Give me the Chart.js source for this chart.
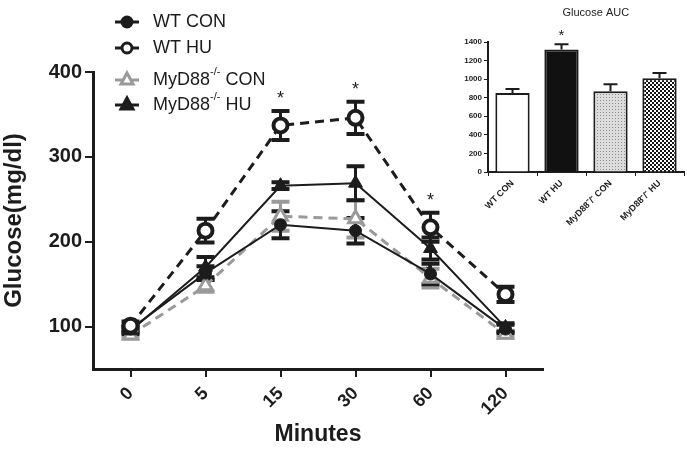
<!DOCTYPE html>
<html>
<head>
<meta charset="utf-8">
<script src="https://cdn.jsdelivr.net/npm/chart.js@4.4.0/dist/chart.umd.min.js"></script>
<style>
  body { margin: 0; background: #fff; }
  #wrap { position: relative; width: 687px; height: 452px; }
  #main { position: absolute; left: 0; top: 0; }
  #inset { position: absolute; left: 440px; top: 0; }
</style>
</head>
<body>
<div id="wrap">
  <canvas id="main" width="687" height="452"></canvas>
  <canvas id="inset" width="247" height="240"></canvas>
</div>
<script>
// glucose tolerance, mean and SEM per time point
const minutes = ['0', '5', '15', '30', '60', '120'];
const wtCon = [97, 163, 220, 213, 162, 97];
const wtConSem = [4, 8, 16, 15, 12, 5];
const wtHu = [101, 213, 337, 346, 217, 138];
const wtHuSem = [5, 14, 17, 19, 17, 9];
const myCon = [90, 148, 230, 227, 157, 91];
const myConSem = [4, 7, 17, 22, 11, 4];
const myHu = [95, 170, 266, 269, 192, 99];
const myHuSem = [4, 12, 4, 20, 13, 5];
const glucoseTicks = [100, 200, 300, 400];
const sigWtHu = ['15', '30', '60'];
const sigMyCon = ['60'];

// area under curve
const aucGroups = ['WT CON', 'WT HU', 'MyD88\u207B/\u207B CON', 'MyD88\u207B/\u207B HU'];
const aucMean = [850, 1320, 870, 1010];
const aucSem = [45, 55, 75, 55];
const aucTicks = [0, 200, 400, 600, 800, 1000, 1200, 1400];
const sigAuc = ['WT HU'];

const BLACK = '#1c1c1c';
const GREY = '#9a9a9a';
const FONT = 'Arial, "Liberation Sans", sans-serif';

// error bars drawn under the markers
const errorBars = {
    id: 'errorBars',
    beforeDatasetsDraw(chart) {
        const ctx = chart.ctx;
        const y = chart.scales.y;
        for (let i = chart.data.datasets.length - 1; i >= 0; i--) {
            const ds = chart.data.datasets[i];
            const meta = chart.getDatasetMeta(i);
            ctx.save();
            ctx.strokeStyle = ds.borderColor;
            ctx.setLineDash([]);
            meta.data.forEach((pt, j) => {
                const top = y.getPixelForValue(ds.data[j] + ds.sem[j]);
                const bot = y.getPixelForValue(ds.data[j] - ds.sem[j]);
                ctx.lineWidth = 3;
                ctx.beginPath();
                ctx.moveTo(pt.x, top);
                ctx.lineTo(pt.x, bot);
                ctx.stroke();
                ctx.lineWidth = 4;
                ctx.beginPath();
                ctx.moveTo(pt.x - 9, top);
                ctx.lineTo(pt.x + 9, top);
                ctx.moveTo(pt.x - 9, bot);
                ctx.lineTo(pt.x + 9, bot);
                ctx.stroke();
            });
            ctx.restore();
        }
    },
    afterDatasetsDraw(chart) {
        const ctx = chart.ctx;
        const x = chart.scales.x;
        const y = chart.scales.y;
        ctx.save();
        ctx.fillStyle = BLACK;
        ctx.textAlign = 'center';
        ctx.textBaseline = 'middle';
        ctx.font = '18px ' + FONT;
        sigWtHu.forEach(t => {
            const j = minutes.indexOf(t);
            ctx.fillText('*', x.getPixelForValue(j), y.getPixelForValue(wtHu[j] + wtHuSem[j]) - 12);
        });
        ctx.font = '14px ' + FONT;
        sigMyCon.forEach(t => {
            const j = minutes.indexOf(t);
            ctx.fillText('*', x.getPixelForValue(j) - 2, y.getPixelForValue(myCon[j] + myConSem[j]) + 2);
        });
        ctx.restore();
    }
};

// legend with superscript text
const sideLegend = {
    id: 'sideLegend',
    afterDraw(chart) {
        const ctx = chart.ctx;
        const items = [
            { name: 'WT CON', sup: '', ds: 1, y: 22 },
            { name: 'WT HU', sup: '', ds: 0, y: 48 },
            { name: 'MyD88', sup: '-/-', rest: ' CON', ds: 3, y: 80 },
            { name: 'MyD88', sup: '-/-', rest: ' HU', ds: 2, y: 105 }
        ];
        ctx.save();
        items.forEach(it => {
            const ds = chart.data.datasets[it.ds];
            ctx.strokeStyle = ds.borderColor;
            ctx.lineWidth = 3;
            ctx.setLineDash([]);
            ctx.beginPath();
            ctx.moveTo(115, it.y);
            ctx.lineTo(139, it.y);
            ctx.stroke();
            ctx.fillStyle = ds.pointBackgroundColor;
            ctx.lineWidth = 3;
            ctx.beginPath();
            if (ds.pointStyle === 'circle') {
                ctx.arc(127, it.y, 5, 0, Math.PI * 2);
            } else {
                ctx.moveTo(127, it.y - 7);
                ctx.lineTo(133, it.y + 4);
                ctx.lineTo(121, it.y + 4);
                ctx.closePath();
            }
            ctx.fill();
            ctx.stroke();
            ctx.fillStyle = BLACK;
            ctx.textBaseline = 'middle';
            ctx.font = '18px ' + FONT;
            ctx.fillText(it.name, 153, it.y);
            if (it.sup) {
                let px = 153 + ctx.measureText(it.name).width;
                ctx.font = '11px ' + FONT;
                ctx.fillText(it.sup, px, it.y - 8);
                px += ctx.measureText(it.sup).width;
                ctx.font = '18px ' + FONT;
                ctx.fillText(it.rest, px, it.y);
            }
        });
        ctx.restore();
    }
};

new Chart(document.getElementById('main').getContext('2d'), {
    type: 'line',
    data: {
        labels: minutes,
        datasets: [
            {
                label: 'WT HU', data: wtHu, sem: wtHuSem,
                borderColor: BLACK, borderWidth: 3, borderDash: [9, 6],
                pointStyle: 'circle', pointRadius: 7, pointBorderWidth: 4,
                pointBackgroundColor: '#fff', pointBorderColor: BLACK
            },
            {
                label: 'WT CON', data: wtCon, sem: wtConSem,
                borderColor: BLACK, borderWidth: 2,
                pointStyle: 'circle', pointRadius: 6, pointBorderWidth: 1,
                pointBackgroundColor: BLACK, pointBorderColor: BLACK
            },
            {
                label: 'MyD88-/- HU', data: myHu, sem: myHuSem,
                borderColor: BLACK, borderWidth: 2,
                pointStyle: 'triangle', pointRadius: 8, pointBorderWidth: 1,
                pointBackgroundColor: BLACK, pointBorderColor: BLACK
            },
            {
                label: 'MyD88-/- CON', data: myCon, sem: myConSem,
                borderColor: GREY, borderWidth: 3, borderDash: [9, 6],
                pointStyle: 'triangle', pointRadius: 8, pointBorderWidth: 3,
                pointBackgroundColor: '#fff', pointBorderColor: GREY
            }
        ]
    },
    options: {
        responsive: false,
        animation: false,
        layout: { padding: { top: 72, right: 144, left: 0, bottom: 0 } },
        plugins: {
            legend: { display: false },
            tooltip: { enabled: false }
        },
        scales: {
            x: {
                offset: true,
                grid: { display: true, drawOnChartArea: false, drawTicks: true, tickLength: 8, color: BLACK, lineWidth: 2, offset: false },
                border: { display: true, color: BLACK, width: 3 },
                ticks: {
                    color: BLACK, font: { family: FONT, size: 18, weight: 'bold' },
                    minRotation: 45, maxRotation: 45, padding: 6
                },
                title: { display: true, text: 'Minutes', color: BLACK, font: { family: FONT, size: 23, weight: 'bold' }, padding: { top: 0, bottom: 4 } },
                afterFit(scale) { scale.height = 83; }
            },
            y: {
                min: 50, max: 400,
                grid: { display: true, drawOnChartArea: false, drawTicks: true, tickLength: 8, color: BLACK, lineWidth: 2 },
                border: { display: true, color: BLACK, width: 3 },
                ticks: { color: BLACK, font: { family: FONT, size: 20, weight: 'bold' }, padding: 3 },
                afterBuildTicks(scale) { scale.ticks = glucoseTicks.map(v => ({ value: v })); },
                title: { display: true, text: 'Glucose(mg/dl)', color: BLACK, font: { family: FONT, size: 24, weight: 'bold' }, padding: { top: 0, bottom: 0 } },
                afterFit(scale) { scale.width = 93; }
            }
        }
    },
    plugins: [errorBars, sideLegend]
});

// bar fill patterns
function dotPattern() {
    const c = document.createElement('canvas');
    c.width = 3; c.height = 3;
    const g = c.getContext('2d');
    g.fillStyle = '#dcdcdc';
    g.fillRect(0, 0, 3, 3);
    g.fillStyle = '#8c8c8c';
    g.fillRect(1, 1, 1, 1);
    return g.createPattern(c, 'repeat');
}
function checkPattern() {
    const c = document.createElement('canvas');
    c.width = 4; c.height = 4;
    const g = c.getContext('2d');
    g.fillStyle = '#111';
    g.fillRect(0, 0, 4, 4);
    g.fillStyle = '#fff';
    g.fillRect(0, 0, 2, 2);
    g.fillRect(2, 2, 2, 2);
    return g.createPattern(c, 'repeat');
}

const aucExtras = {
    id: 'aucExtras',
    afterDatasetsDraw(chart) {
        const ctx = chart.ctx;
        const y = chart.scales.y;
        const meta = chart.getDatasetMeta(0);
        ctx.save();
        ctx.strokeStyle = BLACK;
        meta.data.forEach((bar, j) => {
            const top = y.getPixelForValue(aucMean[j] + aucSem[j]);
            ctx.lineWidth = 2;
            ctx.beginPath();
            ctx.moveTo(bar.x, bar.y);
            ctx.lineTo(bar.x, top);
            ctx.moveTo(bar.x - 7, top);
            ctx.lineTo(bar.x + 7, top);
            ctx.stroke();
        });
        ctx.fillStyle = BLACK;
        ctx.textAlign = 'center';
        ctx.textBaseline = 'middle';
        ctx.font = '15px ' + FONT;
        sigAuc.forEach(g => {
            const j = aucGroups.indexOf(g);
            ctx.fillText('*', meta.data[j].x, y.getPixelForValue(aucMean[j] + aucSem[j]) - 8);
        });
        const area = chart.chartArea;
        ctx.font = '11px ' + FONT;
        ctx.fillText('Glucose AUC', area.left + area.width * 0.55, 13);
        ctx.restore();
    }
};

new Chart(document.getElementById('inset').getContext('2d'), {
    type: 'bar',
    data: {
        labels: aucGroups,
        datasets: [{
            data: aucMean,
            backgroundColor: ['#fff', '#111', dotPattern(), checkPattern()],
            borderColor: BLACK,
            borderWidth: 2,
            borderSkipped: 'bottom',
            barPercentage: 0.7,
            categoryPercentage: 1
        }]
    },
    options: {
        responsive: false,
        animation: false,
        layout: { padding: { top: 42, right: 3, left: 0, bottom: 0 } },
        plugins: {
            legend: { display: false },
            tooltip: { enabled: false }
        },
        scales: {
            x: {
                grid: { display: true, drawOnChartArea: false, drawTicks: true, tickLength: 4, color: BLACK, lineWidth: 1 },
                border: { display: true, color: BLACK, width: 2 },
                ticks: { color: BLACK, font: { family: FONT, size: 9, weight: 'bold' }, minRotation: 45, maxRotation: 45, padding: 2 },
                afterFit(scale) { scale.height = 68; }
            },
            y: {
                min: 0, max: 1400,
                grid: { display: true, drawOnChartArea: false, drawTicks: true, tickLength: 4, color: BLACK, lineWidth: 1 },
                border: { display: true, color: BLACK, width: 2 },
                ticks: { color: BLACK, font: { family: FONT, size: 8, weight: 'bold' }, padding: 2, callback: v => String(v) },
                afterBuildTicks(scale) { scale.ticks = aucTicks.map(v => ({ value: v })); },
                afterFit(scale) { scale.width = 48; }
            }
        }
    },
    plugins: [aucExtras]
});
</script>
</body>
</html>
